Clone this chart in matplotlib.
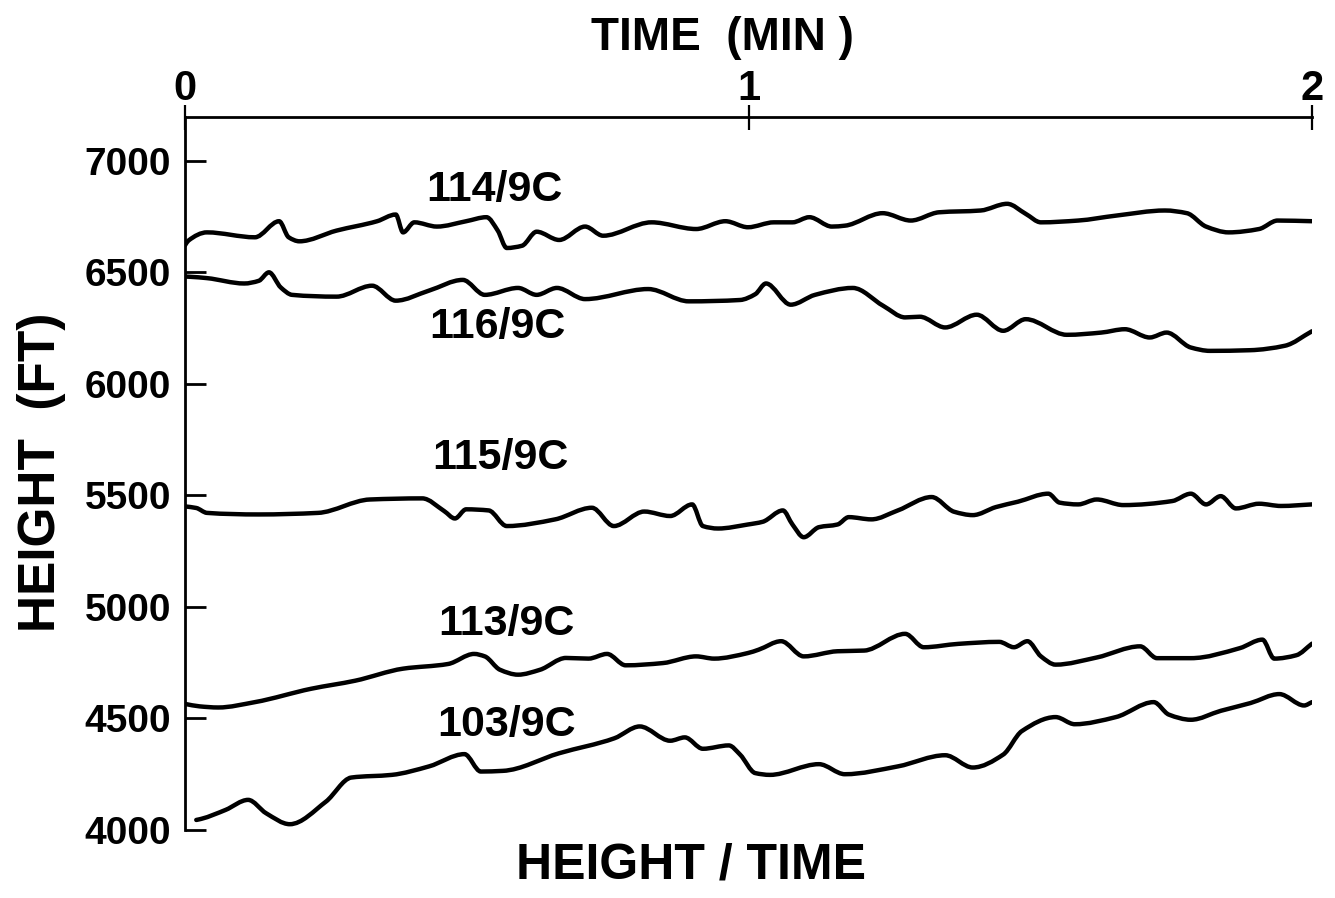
import matplotlib
matplotlib.use("Agg")
import matplotlib.pyplot as plt
from matplotlib.path import Path
from matplotlib.patches import PathPatch

# Height traces (ft) against time (min) for five soundings
t_114 = [0.0, 0.006, 0.039, 0.124, 0.167, 0.184, 0.203, 0.269, 0.341, 0.374,
         0.387, 0.407, 0.447, 0.499, 0.535, 0.555, 0.571, 0.598, 0.624, 0.664,
         0.710, 0.742, 0.828, 0.907, 0.959, 0.999, 1.045, 1.078, 1.108, 1.148,
         1.171, 1.238, 1.288, 1.338, 1.412, 1.459, 1.492, 1.519, 1.585, 1.652,
         1.739, 1.778, 1.812, 1.852, 1.906, 1.939, 2.0]
h_114 = [6620, 6641, 6678, 6656, 6728, 6656, 6638, 6686, 6728, 6758,
         6678, 6723, 6704, 6728, 6746, 6686, 6608, 6618, 6681, 6644,
         6704, 6663, 6723, 6693, 6728, 6701, 6723, 6723, 6746, 6704,
         6708, 6764, 6731, 6768, 6776, 6806, 6761, 6723, 6731, 6753,
         6776, 6764, 6704, 6678, 6693, 6731, 6728]

t_116 = [0.0, 0.009, 0.039, 0.105, 0.131, 0.149, 0.170, 0.190, 0.269, 0.332,
         0.374, 0.433, 0.493, 0.532, 0.591, 0.624, 0.660, 0.710, 0.822, 0.894,
         0.985, 1.012, 1.031, 1.075, 1.118, 1.185, 1.239, 1.278, 1.304, 1.349,
         1.405, 1.452, 1.492, 1.565, 1.626, 1.668, 1.712, 1.742, 1.785, 1.819,
         1.890, 1.952, 2.0]
h_116 = [6480, 6479, 6473, 6449, 6461, 6499, 6431, 6398, 6390, 6439,
         6372, 6417, 6465, 6398, 6429, 6398, 6429, 6379, 6424, 6369,
         6375, 6401, 6449, 6354, 6398, 6429, 6349, 6297, 6300, 6252,
         6309, 6237, 6289, 6219, 6229, 6244, 6207, 6229, 6162, 6147,
         6150, 6170, 6235]

t_115 = [0.0, 0.020, 0.039, 0.131, 0.236, 0.328, 0.421, 0.460, 0.479, 0.499,
         0.539, 0.571, 0.657, 0.722, 0.761, 0.815, 0.861, 0.900, 0.919, 0.946,
         0.999, 1.025, 1.061, 1.078, 1.098, 1.125, 1.158, 1.178, 1.218, 1.265,
         1.325, 1.365, 1.398, 1.439, 1.478, 1.532, 1.552, 1.585, 1.618, 1.665,
         1.752, 1.785, 1.812, 1.838, 1.865, 1.906, 1.945, 2.0]
h_115 = [5450, 5443, 5421, 5414, 5421, 5481, 5486, 5429, 5396, 5437,
         5432, 5362, 5392, 5444, 5362, 5427, 5407, 5459, 5362, 5351,
         5369, 5381, 5432, 5369, 5312, 5357, 5369, 5402, 5392, 5432,
         5492, 5426, 5411, 5447, 5471, 5507, 5467, 5459, 5481, 5456,
         5474, 5507, 5459, 5496, 5441, 5462, 5452, 5459]

t_113 = [0.0, 0.026, 0.059, 0.124, 0.224, 0.302, 0.387, 0.467, 0.513, 0.532,
         0.559, 0.591, 0.630, 0.676, 0.716, 0.749, 0.782, 0.848, 0.907, 0.939,
         0.999, 1.018, 1.058, 1.098, 1.158, 1.205, 1.278, 1.311, 1.372, 1.445,
         1.471, 1.495, 1.519, 1.545, 1.618, 1.695, 1.725, 1.785, 1.872, 1.912,
         1.933, 1.972, 2.0]
h_113 = [4565, 4554, 4549, 4573, 4633, 4669, 4723, 4744, 4789, 4778,
         4718, 4696, 4718, 4771, 4768, 4789, 4738, 4748, 4778, 4768,
         4793, 4808, 4846, 4778, 4801, 4804, 4879, 4819, 4834, 4843,
         4819, 4846, 4778, 4741, 4773, 4823, 4770, 4770, 4815, 4853,
         4768, 4783, 4835]

t_103 = [0.02, 0.029, 0.072, 0.112, 0.144, 0.186, 0.250, 0.295, 0.367, 0.433,
         0.496, 0.525, 0.564, 0.664, 0.762, 0.807, 0.861, 0.887, 0.919, 0.965,
         0.985, 1.012, 1.038, 1.125, 1.171, 1.265, 1.349, 1.398, 1.452, 1.485,
         1.545, 1.579, 1.652, 1.719, 1.746, 1.785, 1.838, 1.891, 1.942, 1.986,
         2.0]
h_103 = [4045, 4050, 4090, 4135, 4075, 4026, 4127, 4235, 4247, 4285,
         4340, 4262, 4265, 4344, 4411, 4464, 4400, 4415, 4364, 4379,
         4338, 4255, 4247, 4295, 4250, 4285, 4335, 4280, 4338, 4443,
         4506, 4474, 4506, 4573, 4517, 4494, 4534, 4569, 4609, 4558,
         4573]

series_names = ["114/9C", "116/9C", "115/9C", "113/9C", "103/9C"]
series_times = [t_114, t_116, t_115, t_113, t_103]
series_heights = [h_114, h_116, h_115, h_113, h_103]
# label anchor (time, height) for each trace name
label_pos = [(0.55, 6868), (0.555, 6255), (0.56, 5668), (0.57, 4925), (0.57, 4470)]

x_ticks = [0, 1, 2]
x_tick_labels = ["0", "1", "2"]
y_ticks = [4000, 4500, 5000, 5500, 6000, 6500, 7000]
y_tick_labels = ["4000", "4500", "5000", "5500", "6000", "6500", "7000"]

BOLD = ["Liberation Sans", "DejaVu Sans"]
NARROW = ["Liberation Sans Narrow", "Liberation Sans", "DejaVu Sans"]


def smooth_trace_path(xs, ys):
    """Bezier path through every recorded point, with shape-preserving
    (PCHIP-style) tangents so the pen trace looks hand drawn."""
    n = len(xs)
    sec = [(ys[i + 1] - ys[i]) / (xs[i + 1] - xs[i]) for i in range(n - 1)]
    m = [0.0] * n
    m[0], m[-1] = sec[0], sec[-1]
    for i in range(1, n - 1):
        a, b = sec[i - 1], sec[i]
        if a * b <= 0:
            m[i] = 0.0
        else:
            h0 = xs[i] - xs[i - 1]
            h1 = xs[i + 1] - xs[i]
            w1, w2 = 2 * h1 + h0, h1 + 2 * h0
            m[i] = (w1 + w2) / (w1 / a + w2 / b)
    verts = [(xs[0], ys[0])]
    codes = [Path.MOVETO]
    for i in range(n - 1):
        dx = xs[i + 1] - xs[i]
        verts += [(xs[i] + dx / 3, ys[i] + m[i] * dx / 3),
                  (xs[i + 1] - dx / 3, ys[i + 1] - m[i + 1] * dx / 3),
                  (xs[i + 1], ys[i + 1])]
        codes += [Path.CURVE4] * 3
    return Path(verts, codes)


fig = plt.figure(figsize=(13.35, 8.98), dpi=100)
ax = fig.add_axes([185 / 1335, 68 / 898, 1127 / 1335, 713 / 898])

for t, h in zip(series_times, series_heights):
    ax.add_patch(PathPatch(smooth_trace_path(t, h), facecolor="none",
                           edgecolor="black", lw=3.2, joinstyle="round",
                           capstyle="round"))

for name, (lx, ly) in zip(series_names, label_pos):
    ax.text(lx, ly, name, ha="center", va="center", fontsize=31,
            fontweight="bold", family=BOLD)

ax.set_xlim(0, 2)
ax.set_ylim(4000, 7195)

for side in ("right", "bottom"):
    ax.spines[side].set_visible(False)
for side in ("left", "top"):
    ax.spines[side].set_linewidth(2.0)

ax.xaxis.tick_top()
ax.set_xticks(x_ticks)
ax.set_xticklabels(x_tick_labels, fontsize=30, fontweight="bold", family=NARROW)
ax.tick_params(axis="x", direction="inout", length=18, width=1.6, pad=-3)

ax.set_yticks(y_ticks)
ax.set_yticklabels(y_tick_labels, fontsize=28, fontweight="bold", family=BOLD)
ax.tick_params(axis="y", direction="in", length=15, width=2.0, pad=10)

fig.text(722 / 1335, 1 - 38 / 898, "TIME  (MIN )", ha="center", va="center",
         fontsize=33, fontweight="bold", family=NARROW)
fig.text(691 / 1335, 1 - 865 / 898, "HEIGHT / TIME", ha="center", va="center",
         fontsize=36, fontweight="bold", family=BOLD)
fig.text(42 / 1335, 1 - 472 / 898, "HEIGHT  (FT)", ha="center", va="center",
         rotation=90, fontsize=37, fontweight="bold", family=BOLD)

fig.savefig("out.png", dpi=100, facecolor="white")
